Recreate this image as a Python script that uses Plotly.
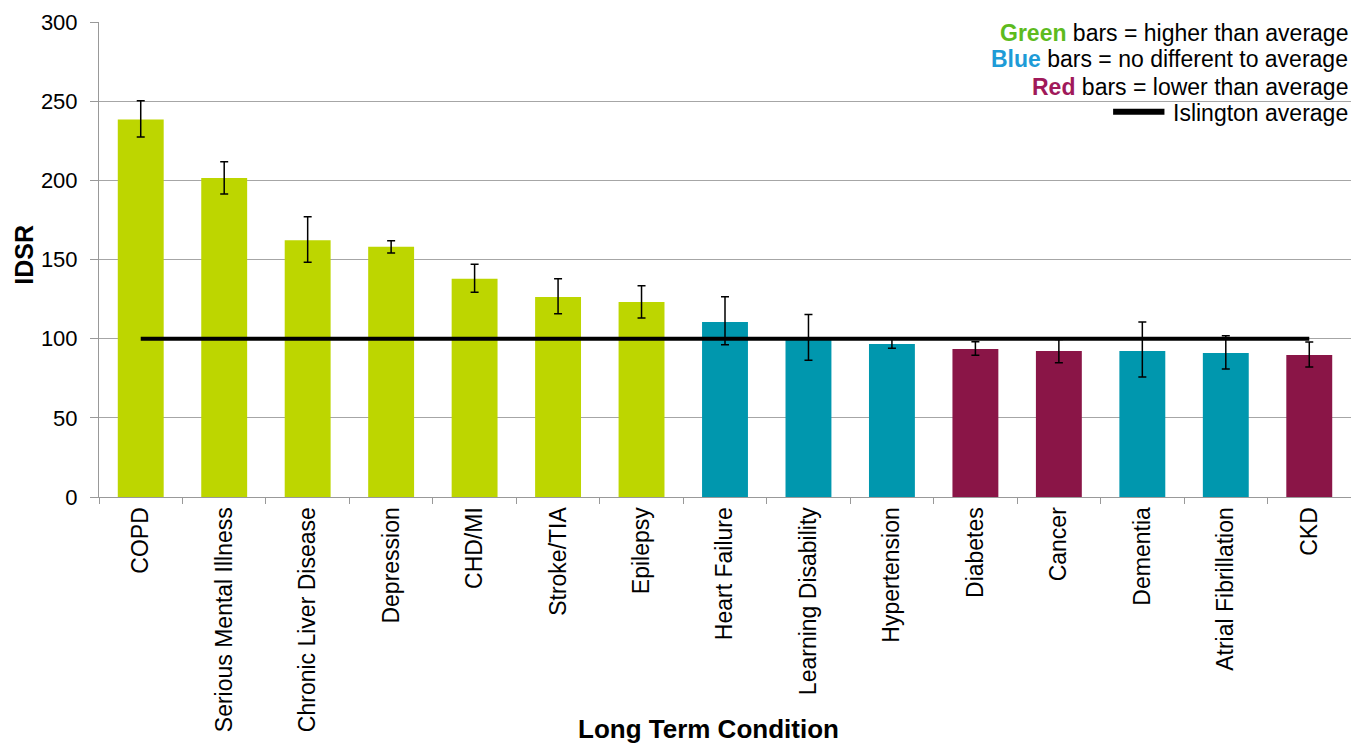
import plotly.graph_objects as go

categories = ["COPD", "Serious Mental Illness", "Chronic Liver Disease", "Depression",
              "CHD/MI", "Stroke/TIA", "Epilepsy", "Heart Failure", "Learning Disability",
              "Hypertension", "Diabetes", "Cancer", "Dementia", "Atrial Fibrillation", "CKD"]
idsr = [238.5, 201.5, 162.1, 158.0, 137.8, 126.3, 123.2, 110.5, 100.0,
        96.6, 93.5, 92.2, 92.2, 90.9, 89.7]
ci_upper = [250.3, 211.8, 177.0, 161.9, 147.0, 137.9, 133.5, 126.5, 115.2,
            99.8, 98.1, 99.5, 110.5, 101.9, 97.9]
ci_lower = [227.4, 191.4, 148.2, 154.1, 129.3, 115.8, 113.1, 96.2, 86.3,
            93.9, 89.5, 84.8, 75.8, 80.8, 82.1]
status = ["higher"] * 7 + ["same", "same", "same", "lower", "lower", "same", "same", "lower"]
islington_average = [100] * len(categories)

colour_map = {"higher": "#BDD600", "same": "#0097AE", "lower": "#8A1547"}
bar_colours = [colour_map[s] for s in status]

font_family = "Liberation Sans, Arial, sans-serif"

fig = go.Figure()
fig.add_trace(go.Bar(
    x=categories, y=idsr,
    marker=dict(color=bar_colours, line=dict(width=0)),
    width=0.55,
    error_y=dict(type="data", symmetric=False,
                 array=[u - v for u, v in zip(ci_upper, idsr)],
                 arrayminus=[v - l for v, l in zip(idsr, ci_lower)],
                 color="black", thickness=1.5, width=4),
    showlegend=False,
))
fig.add_trace(go.Scatter(
    x=categories, y=islington_average, mode="lines",
    line=dict(color="black", width=4), showlegend=False,
))

legend_lines = [
    ("<b><span style='color:#5DBB1E'>Green</span></b> bars = higher than average", 0.977),
    ("<b><span style='color:#1E9BD7'>Blue</span></b> bars = no different to average", 0.922),
    ("<b><span style='color:#A0195A'>Red</span></b> bars = lower than average", 0.864),
    ("Islington average", 0.809),
]
for txt, yy in legend_lines:
    fig.add_annotation(x=0.999, y=yy, xref="paper", yref="paper", text=txt,
                       showarrow=False, xanchor="right", yanchor="middle",
                       font=dict(size=23, color="black", family=font_family))
fig.add_shape(type="line", xref="paper", yref="paper", x0=0.810, x1=0.851,
              y0=0.811, y1=0.811, line=dict(color="black", width=6))

# axis titles as annotations (they overlap the tick-label band in the reference)
fig.add_annotation(x=0.487, y=-0.488, xref="paper", yref="paper",
                   text="<b>Long Term Condition</b>", showarrow=False,
                   xanchor="center", yanchor="middle",
                   font=dict(size=26, color="black", family=font_family))
fig.add_annotation(x=-0.06, y=0.51, xref="paper", yref="paper",
                   text="<b>IDSR</b>", showarrow=False, textangle=-90,
                   xanchor="center", yanchor="middle",
                   font=dict(size=25, color="black", family=font_family))

fig.update_layout(
    width=1351, height=737,
    margin=dict(l=91, r=8, t=14, b=248),
    paper_bgcolor="white", plot_bgcolor="white",
    font=dict(family=font_family, size=22, color="black"),
    xaxis=dict(
        automargin=False,
        tickangle=-90, showgrid=False, showline=True, linecolor="#999999", linewidth=1,
        ticks="outside", ticklen=6, tickcolor="#999999",
        tickson="boundaries", tickfont=dict(size=23),
    ),
    yaxis=dict(
        automargin=False,
        range=[0, 300], dtick=50, showgrid=True, gridcolor="#A6A6A6", gridwidth=1,
        showline=True, linecolor="#999999", linewidth=1,
        ticks="outside", ticklen=8, tickcolor="#999999", tickfont=dict(size=22),
        ticklabelstandoff=8, zeroline=False,
    ),
)

fig.write_html("out.html")
